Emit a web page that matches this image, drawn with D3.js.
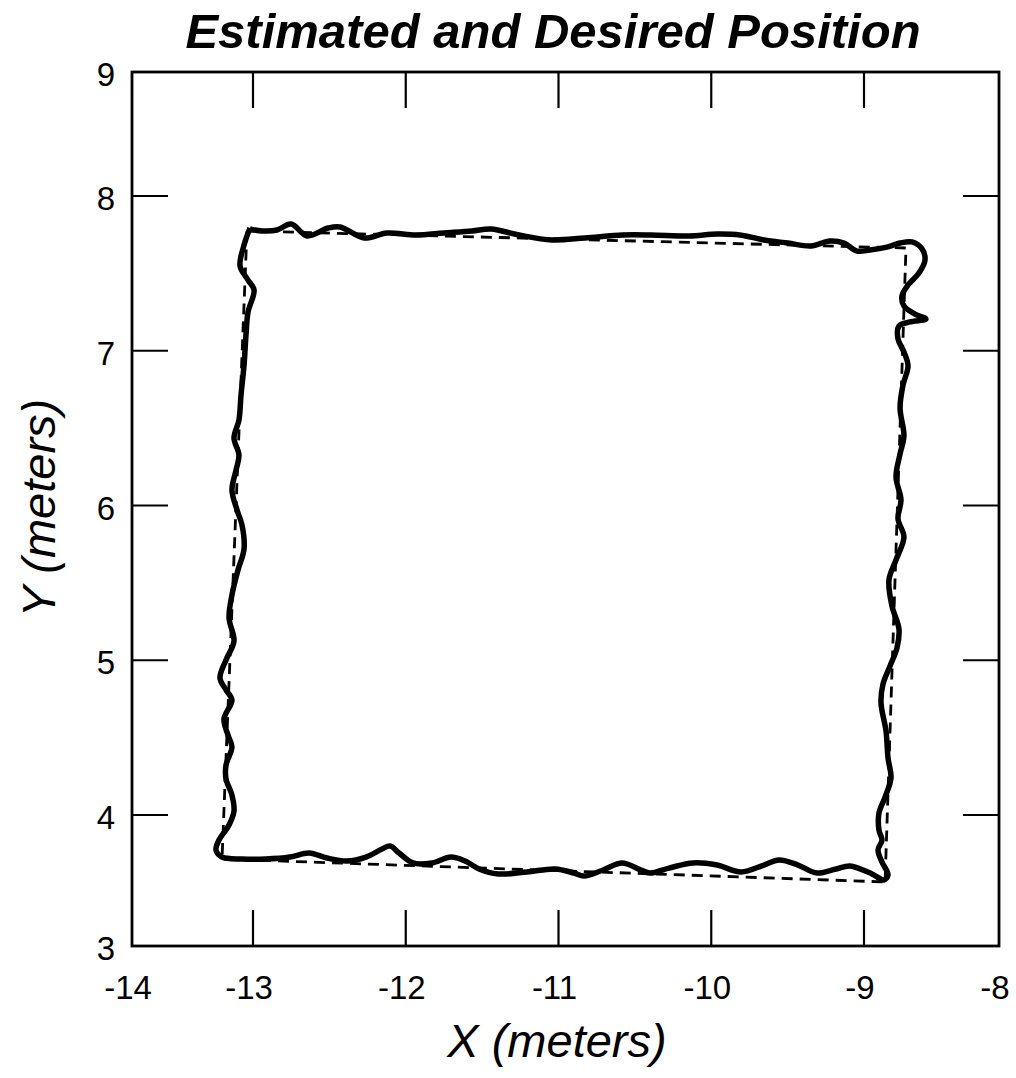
<!DOCTYPE html>
<html>
<head>
<meta charset="utf-8">
<script src="https://cdn.jsdelivr.net/npm/d3@7"></script>
<style>
  body { margin: 0; background: #fff; }
  svg { display: block; }
  text { font-family: "Liberation Sans", Arial, Helvetica, sans-serif; fill: #000; }
</style>
</head>
<body>
<svg id="chart" width="1016" height="1078"></svg>
<script>
// tick values
const xTicks = [-14, -13, -12, -11, -10, -9, -8];
const yTicks = [3, 4, 5, 6, 7, 8, 9];

// desired path (dashed), corners of the square
const desiredX = [-13.050, -8.689, -8.844, -13.256, -13.050];
const desiredY = [7.774, 7.664, 3.489, 3.664, 7.774];

// estimated path (solid), read off the picture going round the square
const estX = [
  -13.025, -13.074, -13.107, -13.041, -12.993, -13.041, -13.058, -13.074, -13.099, -13.116,
  -13.157, -13.116, -13.140, -13.174, -13.132, -13.091, -13.074, -13.124, -13.174, -13.198,
  -13.157, -13.223, -13.273, -13.223, -13.174, -13.240, -13.207, -13.174, -13.223, -13.223,
  -13.174, -13.157, -13.198, -13.281, -13.306, -13.256,
  -13.091, -12.915, -12.758, -12.633, -12.516, -12.385, -12.260, -12.155, -12.103, -12.044,
  -11.953, -11.828, -11.704, -11.612, -11.520, -11.396, -11.206, -11.023, -10.899, -10.833,
  -10.709, -10.584, -10.460, -10.401, -10.277, -10.119, -9.962, -9.805, -9.655, -9.556,
  -9.432, -9.308, -9.183, -9.092, -8.941, -8.852, -8.822, -8.867, -8.896, -8.867,
  -8.889, -8.889, -8.844, -8.800, -8.822, -8.837, -8.874, -8.859, -8.807, -8.756,
  -8.741, -8.793, -8.815, -8.763, -8.704, -8.748, -8.726, -8.763, -8.733, -8.704,
  -8.733, -8.711, -8.674, -8.704, -8.748, -8.741, -8.659, -8.541, -8.622, -8.704,
  -8.719, -8.674, -8.593, -8.548, -8.570, -8.644, -8.733, -8.830, -8.956, -9.046,
  -9.131, -9.223, -9.347, -9.498, -9.655, -9.812, -9.962, -10.146, -10.394, -10.578,
  -10.827, -11.043, -11.259, -11.442, -11.566, -11.750, -11.933, -12.123, -12.273, -12.430,
  -12.509, -12.646, -12.751, -12.843, -12.941, -13.025
];
const estY = [
  7.793, 7.683, 7.548, 7.457, 7.393, 7.250, 7.102, 6.908, 6.714, 6.553,
  6.436, 6.326, 6.229, 6.100, 5.971, 5.874, 5.719, 5.583, 5.422, 5.273,
  5.124, 5.002, 4.885, 4.808, 4.743, 4.620, 4.517, 4.439, 4.323, 4.233,
  4.129, 4.026, 3.924, 3.809, 3.733, 3.679,
  3.664, 3.664, 3.679, 3.710, 3.672, 3.649, 3.679, 3.740, 3.763, 3.710,
  3.634, 3.634, 3.679, 3.649, 3.588, 3.550, 3.565, 3.588, 3.557, 3.534,
  3.580, 3.634, 3.580, 3.557, 3.595, 3.634, 3.618, 3.565, 3.618, 3.656,
  3.618, 3.557, 3.588, 3.611, 3.550, 3.504, 3.542, 3.641, 3.733, 3.809,
  3.885, 4.013, 4.116, 4.239, 4.368, 4.543, 4.724, 4.847, 4.963, 5.079,
  5.202, 5.351, 5.519, 5.648, 5.796, 5.913, 6.036, 6.184, 6.333, 6.449,
  6.630, 6.779, 6.901, 6.992, 7.076, 7.160, 7.186, 7.205, 7.237, 7.289,
  7.354, 7.425, 7.502, 7.586, 7.658, 7.703, 7.696, 7.670, 7.651, 7.644,
  7.696, 7.709, 7.677, 7.696, 7.716, 7.748, 7.754, 7.742, 7.748, 7.748,
  7.729, 7.716, 7.748, 7.787, 7.774, 7.761, 7.748, 7.761, 7.729, 7.800,
  7.793, 7.742, 7.819, 7.780, 7.774, 7.787
];

const svg = d3.select('#chart');

// the old plot's outer tick labels sit on the frame, inner ticks are evenly spaced
const x = d3.scaleLinear()
  .domain([-14, -13, -9, -8])
  .range([132, 253, 864, 999]);
const y = d3.scaleLinear()
  .domain([3, 4, 8, 9])
  .range([946, 815, 196, 72]);

const tickLen = 36;

// frame
svg.append('rect')
  .attr('x', x(-14))
  .attr('y', y(9))
  .attr('width', x(-8) - x(-14))
  .attr('height', y(3) - y(9))
  .attr('fill', 'none')
  .attr('stroke', '#000')
  .attr('stroke-width', 2.8);

// inner ticks on all four sides
const innerX = xTicks.slice(1, -1);
const innerY = yTicks.slice(1, -1);
innerX.forEach(v => {
  svg.append('line')
    .attr('x1', x(v)).attr('x2', x(v))
    .attr('y1', y(3)).attr('y2', y(3) - tickLen)
    .attr('stroke', '#000').attr('stroke-width', 2.2);
  svg.append('line')
    .attr('x1', x(v)).attr('x2', x(v))
    .attr('y1', y(9)).attr('y2', y(9) + tickLen)
    .attr('stroke', '#000').attr('stroke-width', 2.2);
});
innerY.forEach(v => {
  svg.append('line')
    .attr('x1', x(-14)).attr('x2', x(-14) + tickLen)
    .attr('y1', y(v)).attr('y2', y(v))
    .attr('stroke', '#000').attr('stroke-width', 2.2);
  svg.append('line')
    .attr('x1', x(-8)).attr('x2', x(-8) - tickLen)
    .attr('y1', y(v)).attr('y2', y(v))
    .attr('stroke', '#000').attr('stroke-width', 2.2);
});

// tick labels
svg.selectAll('.xlabel')
  .data(xTicks)
  .enter().append('text')
  .attr('class', 'xlabel')
  .attr('x', d => x(d) - 4)
  .attr('y', 999)
  .attr('text-anchor', 'middle')
  .attr('font-size', '33px')
  .text(d => d);

svg.selectAll('.ylabel')
  .data(yTicks)
  .enter().append('text')
  .attr('class', 'ylabel')
  .attr('x', 115)
  .attr('y', d => y(d) + 14)
  .attr('text-anchor', 'end')
  .attr('font-size', '33px')
  .text(d => d);

// desired path
const desired = desiredX.map((v, i) => [v, desiredY[i]]);
svg.append('path')
  .datum(desired)
  .attr('d', d3.line().x(d => x(d[0])).y(d => y(d[1])))
  .attr('fill', 'none')
  .attr('stroke', '#000')
  .attr('stroke-width', 2.8)
  .attr('stroke-dasharray', '11,7');

// estimated path
const est = estX.map((v, i) => [v, estY[i]]);
svg.append('path')
  .datum(est)
  .attr('d', d3.line().x(d => x(d[0])).y(d => y(d[1])).curve(d3.curveCatmullRom.alpha(0.5)))
  .attr('fill', 'none')
  .attr('stroke', '#000')
  .attr('stroke-width', 5.5)
  .attr('stroke-linejoin', 'round');

// title and axis labels
svg.append('text')
  .attr('x', 553)
  .attr('y', 48)
  .attr('text-anchor', 'middle')
  .attr('font-size', '49px')
  .attr('font-weight', 'bold')
  .attr('font-style', 'italic')
  .text('Estimated and Desired Position');

svg.append('text')
  .attr('x', 557)
  .attr('y', 1057)
  .attr('text-anchor', 'middle')
  .attr('font-size', '47px')
  .attr('font-style', 'italic')
  .text('X (meters)');

svg.append('text')
  .attr('transform', 'translate(55,508) rotate(-90)')
  .attr('text-anchor', 'middle')
  .attr('font-size', '47px')
  .attr('font-style', 'italic')
  .text('Y (meters)');
</script>
</body>
</html>
